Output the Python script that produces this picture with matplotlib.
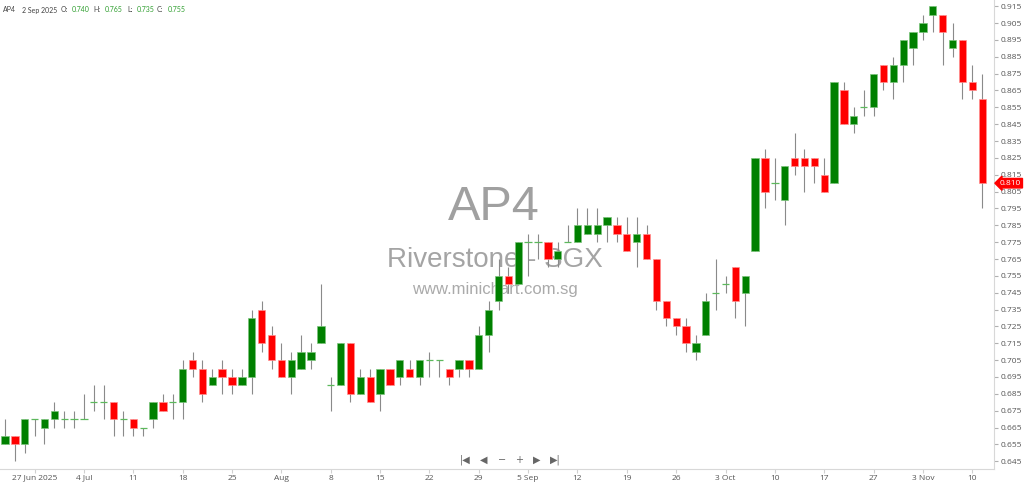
import matplotlib.pyplot as plt
from matplotlib.transforms import blended_transform_factory

# daily candles, 24 Jun 2025 .. 11 Nov 2025
opens = [0.655, 0.660, 0.655, 0.670, 0.665, 0.670, 0.670, 0.670, 0.670, 0.680,
         0.680, 0.680, 0.670, 0.670, 0.665, 0.670, 0.680, 0.680, 0.680, 0.705,
         0.700, 0.690, 0.700, 0.695, 0.690, 0.695, 0.735, 0.720, 0.705, 0.695,
         0.700, 0.705, 0.715, 0.690, 0.690, 0.715, 0.685, 0.695, 0.685, 0.700,
         0.695, 0.700, 0.695, 0.705, 0.705, 0.700, 0.700, 0.705, 0.700, 0.720,
         0.740, 0.755, 0.750, 0.775, 0.775, 0.775, 0.765, 0.775, 0.775, 0.780,
         0.780, 0.785, 0.785, 0.780, 0.775, 0.780, 0.765, 0.740, 0.730, 0.725,
         0.710, 0.720, 0.745, 0.750, 0.760, 0.745, 0.770, 0.825, 0.810, 0.800,
         0.825, 0.825, 0.825, 0.815, 0.810, 0.865, 0.845, 0.855, 0.855, 0.880,
         0.870, 0.880, 0.890, 0.900, 0.910, 0.910, 0.890, 0.895, 0.870, 0.860]
highs = [0.670, 0.660, 0.670, 0.670, 0.670, 0.680, 0.675, 0.675, 0.685, 0.690,
         0.690, 0.680, 0.675, 0.670, 0.665, 0.680, 0.685, 0.685, 0.705, 0.710,
         0.705, 0.700, 0.705, 0.700, 0.700, 0.735, 0.740, 0.725, 0.715, 0.710,
         0.720, 0.715, 0.750, 0.695, 0.715, 0.715, 0.700, 0.700, 0.700, 0.700,
         0.705, 0.705, 0.705, 0.710, 0.705, 0.700, 0.705, 0.705, 0.725, 0.740,
         0.765, 0.760, 0.775, 0.780, 0.780, 0.775, 0.775, 0.785, 0.795, 0.795,
         0.795, 0.790, 0.790, 0.790, 0.790, 0.785, 0.765, 0.740, 0.730, 0.730,
         0.720, 0.745, 0.765, 0.755, 0.760, 0.755, 0.825, 0.830, 0.825, 0.820,
         0.840, 0.830, 0.825, 0.825, 0.870, 0.870, 0.855, 0.865, 0.875, 0.880,
         0.885, 0.895, 0.900, 0.910, 0.915, 0.910, 0.905, 0.895, 0.880, 0.875]
lows = [0.655, 0.645, 0.650, 0.660, 0.655, 0.665, 0.665, 0.665, 0.670, 0.675,
        0.670, 0.660, 0.660, 0.660, 0.660, 0.665, 0.675, 0.670, 0.670, 0.695,
        0.680, 0.690, 0.685, 0.685, 0.690, 0.685, 0.710, 0.700, 0.695, 0.685,
        0.700, 0.700, 0.715, 0.675, 0.690, 0.680, 0.685, 0.680, 0.675, 0.690,
        0.690, 0.695, 0.690, 0.695, 0.695, 0.690, 0.695, 0.695, 0.700, 0.710,
        0.735, 0.745, 0.750, 0.755, 0.765, 0.760, 0.760, 0.775, 0.775, 0.780,
        0.775, 0.775, 0.775, 0.770, 0.760, 0.765, 0.735, 0.725, 0.720, 0.710,
        0.705, 0.720, 0.735, 0.745, 0.730, 0.725, 0.770, 0.795, 0.800, 0.785,
        0.815, 0.805, 0.810, 0.805, 0.810, 0.845, 0.840, 0.850, 0.850, 0.865,
        0.860, 0.870, 0.880, 0.895, 0.900, 0.880, 0.885, 0.860, 0.860, 0.795]
closes = [0.660, 0.655, 0.670, 0.670, 0.670, 0.675, 0.670, 0.670, 0.670, 0.680,
          0.680, 0.670, 0.670, 0.665, 0.665, 0.680, 0.675, 0.680, 0.700, 0.700,
          0.685, 0.695, 0.695, 0.690, 0.695, 0.730, 0.715, 0.705, 0.695, 0.705,
          0.710, 0.710, 0.725, 0.690, 0.715, 0.685, 0.695, 0.680, 0.700, 0.690,
          0.705, 0.695, 0.705, 0.705, 0.705, 0.695, 0.705, 0.700, 0.720, 0.735,
          0.755, 0.750, 0.775, 0.775, 0.775, 0.765, 0.770, 0.775, 0.785, 0.785,
          0.785, 0.790, 0.780, 0.770, 0.780, 0.765, 0.740, 0.730, 0.725, 0.715,
          0.715, 0.740, 0.745, 0.750, 0.740, 0.755, 0.825, 0.805, 0.810, 0.820,
          0.820, 0.820, 0.820, 0.805, 0.870, 0.845, 0.850, 0.855, 0.875, 0.870,
          0.880, 0.895, 0.900, 0.905, 0.915, 0.900, 0.895, 0.870, 0.865, 0.810]

date_ticks = [3, 8, 13, 18, 23, 28, 33, 38, 43, 48,
              53, 58, 63, 68, 73, 78, 83, 88, 93, 98]
date_labels = ["27 Jun 2025", "4 Jul", "11", "18", "25", "Aug", "8", "15", "22", "29",
               "5 Sep", "12", "19", "26", "3 Oct", "10", "17", "27", "3 Nov", "10"]
price_ticks = [0.645, 0.655, 0.665, 0.675, 0.685, 0.695, 0.705, 0.715, 0.725,
               0.735, 0.745, 0.755, 0.765, 0.775, 0.785, 0.795, 0.805, 0.815,
               0.825, 0.835, 0.845, 0.855, 0.865, 0.875, 0.885, 0.895, 0.905, 0.915]

GREEN = "#008000"
RED = "#ff0000"
small_font = "Open Sans"

fig = plt.figure(figsize=(10.24, 4.84), dpi=100)
ax = fig.add_axes([0, 15 / 484, 994 / 1024, 469 / 484])

# watermark (baselines)
ax.text(0.497, 0.531, "AP4", transform=ax.transAxes, ha="center", va="baseline",
        fontsize=35, color="#a0a0a0", family="Liberation Sans", zorder=0)
ax.text(0.498, 0.431, "Riverstone - SGX", transform=ax.transAxes, ha="center", va="baseline",
        fontsize=20, color="#a4a4a4", family="Liberation Sans", zorder=0)
ax.text(0.498, 0.373, "www.minichart.com.sg", transform=ax.transAxes, ha="center",
        va="baseline", fontsize=12, color="#aaaaaa", family="Liberation Sans", zorder=0)

x = list(range(len(opens)))
width = 0.74
ax.vlines(x, lows, highs, color="#8a8a8a", linewidth=0.8, zorder=1)
for i in x:
    o, c = opens[i], closes[i]
    if abs(c - o) < 1e-9:
        ax.hlines(o, i - width / 2, i + width / 2, color="#5cb85c", linewidth=0.9, zorder=2)
        continue
    up = c > o
    ax.bar(i, abs(c - o), width=width, bottom=min(o, c),
           color=GREEN if up else RED, edgecolor="#7cc47c" if up else "#ff9090",
           linewidth=0.5, zorder=2)

ax.set_xlim(-0.507, 100.2)
ax.set_ylim(0.6404, 0.9187)

for side in ["top", "left"]:
    ax.spines[side].set_visible(False)
for side in ["right", "bottom"]:
    ax.spines[side].set_color("#d8d8d8")
    ax.spines[side].set_linewidth(0.8)

ax.yaxis.tick_right()
ax.set_yticks(price_ticks)
ax.set_yticklabels(["%.3f" % p for p in price_ticks], family=small_font)
ax.tick_params(axis="y", length=3, color="#b0b0b0", labelsize=6, labelcolor="#555555", pad=2)
ax.set_xticks(date_ticks)
ax.set_xticklabels(date_labels, family=small_font)
ax.tick_params(axis="x", length=3, color="#d0d0d0", labelsize=6, labelcolor="#555555", pad=1)

# last price tag
trans = blended_transform_factory(ax.transAxes, ax.transData)
ax.text(1.006, closes[-1], "%.3f" % closes[-1], transform=trans, ha="left", va="center",
        fontsize=6, color="white", family=small_font, clip_on=False,
        bbox=dict(boxstyle="larrow,pad=0.15", fc=RED, ec=RED))

# header
hdr_y = 1 - 10 / 484
hdr_font = "Lato"
hdr_size = 5.0
fig.text(3 / 1024, hdr_y, "AP4", fontsize=hdr_size, color="#444444", va="center",
         family=hdr_font)
fig.text(22 / 1024, hdr_y, "2 Sep 2025", fontsize=hdr_size, color="#444444", va="center",
         family=hdr_font)
for px, lab, vx, val in [(61, "O:", 72, opens[50]), (93, "H:", 105, highs[50]),
                         (127, "L:", 137, lows[50]), (157, "C:", 168, closes[50])]:
    fig.text(px / 1024, hdr_y, lab, fontsize=hdr_size, color="#444444", va="center",
             family=hdr_font)
    fig.text(vx / 1024, hdr_y, "%.3f" % val, fontsize=hdr_size, color="#2e9e2e",
             va="center", family=hdr_font)

# navigation buttons
for px, sym in [(465, "|◀"), (484, "◀"), (502, "−"), (519, "+"), (537, "▶"), (555, "▶|")]:
    fig.text(px / 1024, 1 - 460 / 484, sym, fontsize=7, color="#666666",
             ha="center", va="center", family="DejaVu Sans")

plt.savefig("out.png", dpi=100)
